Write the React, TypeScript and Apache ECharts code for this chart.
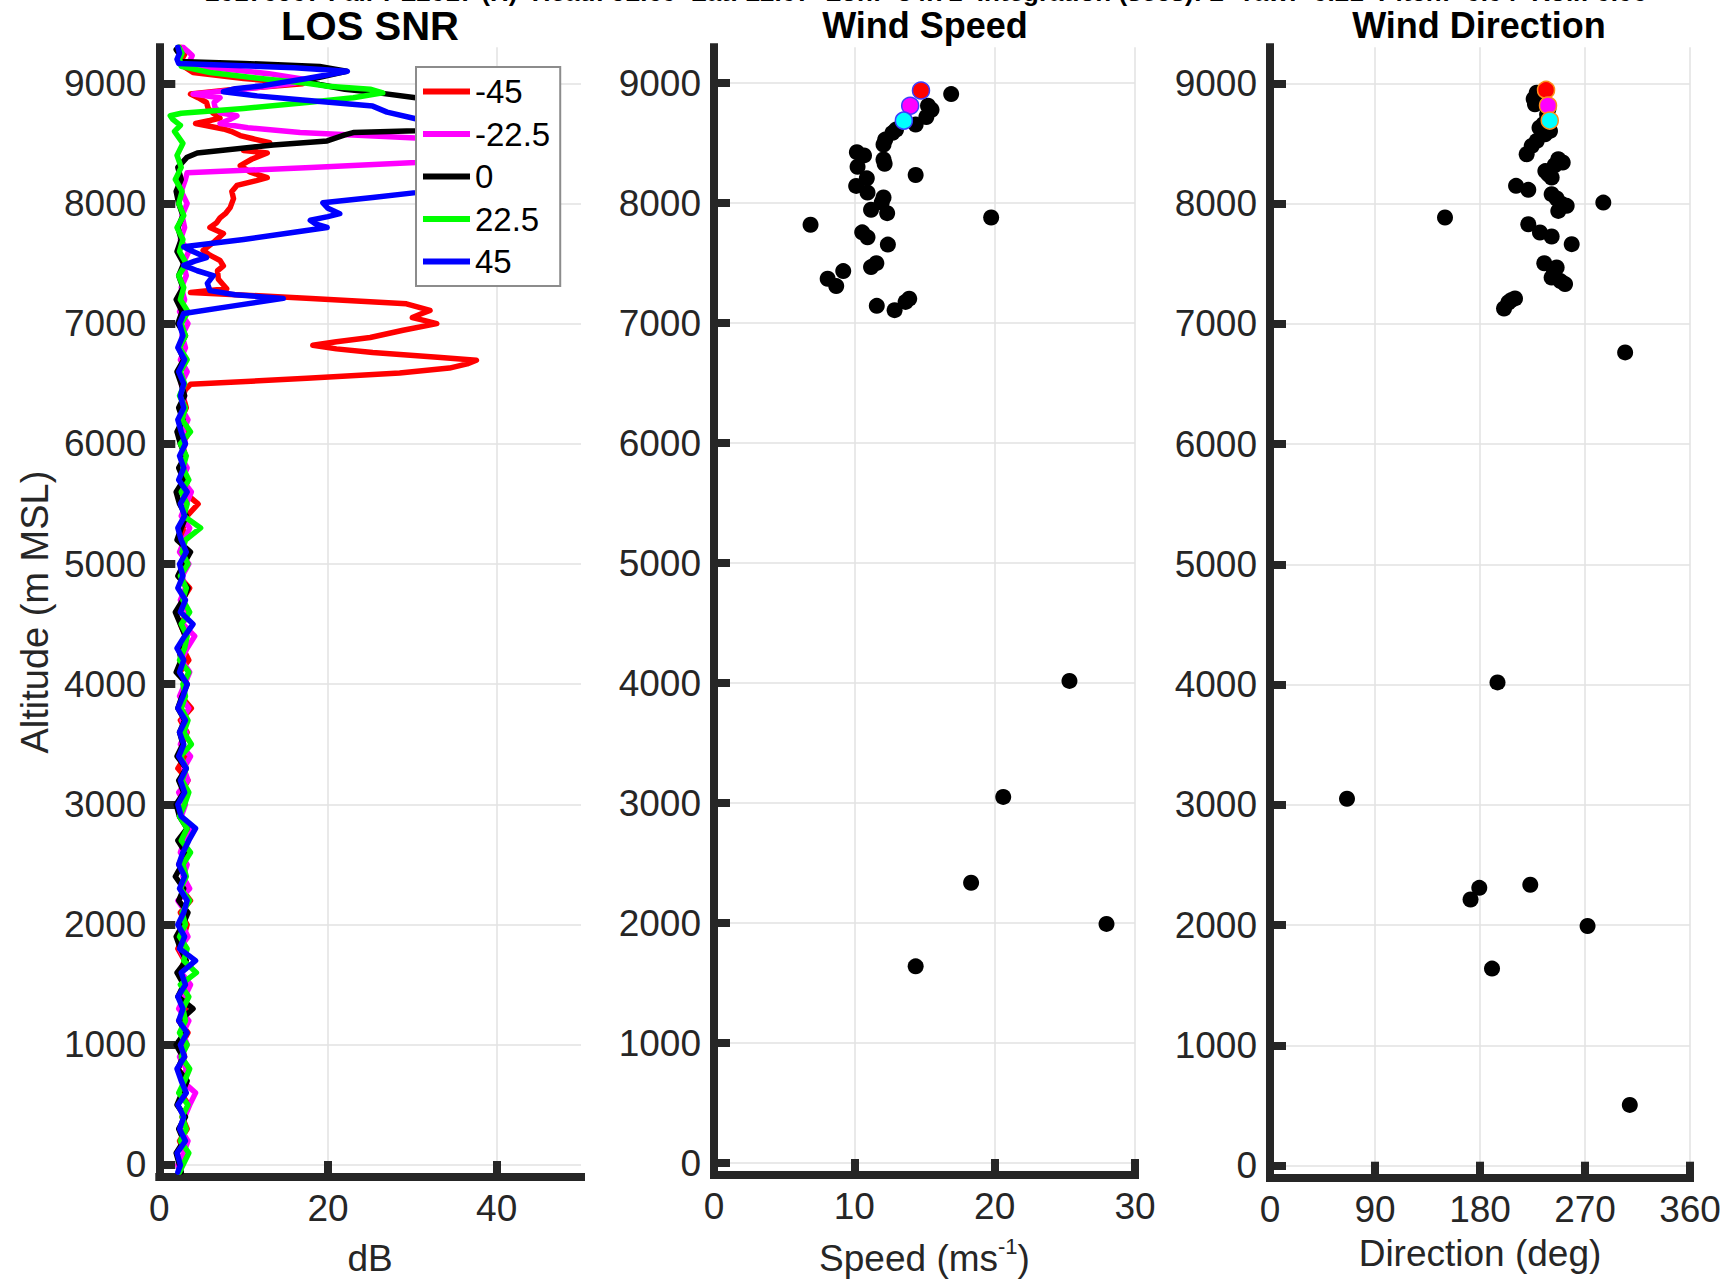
import React, { useEffect, useRef } from 'react';
import * as echarts from 'echarts';

// ---- axis ticks -------------------------------------------------------------
const altitudeTicks = [0, 1000, 2000, 3000, 4000, 5000, 6000, 7000, 8000, 9000];
const snrTicks = [0, 20, 40];
const speedTicks = [0, 10, 20, 30];
const directionTicks = [0, 90, 180, 270, 360];

// ---- LOS SNR profiles (dB) -------------------------------------------------
// Range gates of the noise-floor part of each beam (m MSL)
const gateAltitudes = [
  -60, 0, 100, 200, 300, 400, 500, 600, 700, 800, 900, 1000, 1100, 1200, 1300, 1400, 1500,
  1600, 1700, 1800, 1900, 2000, 2100, 2200, 2300, 2400, 2500, 2600, 2700, 2800, 2900,
  3000, 3100, 3200, 3300, 3400, 3500, 3600, 3700, 3800, 3900, 4000, 4100, 4200, 4300,
  4400, 4500, 4600, 4700, 4800, 4900, 5000, 5100, 5200, 5300, 5400, 5500, 5600, 5700,
  5800, 5900, 6000, 6100, 6200, 6300, 6400,
];

const snrLowM45 = [
  2.3, 2.6, 3.1, 2.4, 3.3, 2.7, 3.5, 2.5, 3.2, 2.2, 3.0, 2.6, 3.4, 2.3, 3.1, 2.7, 3.6,
  2.4, 3.0, 2.2, 2.9, 3.3, 2.5, 3.7, 2.6, 3.1, 2.3, 3.2, 2.8, 3.5, 2.4,
  3.0, 2.6, 3.4, 2.2, 3.1, 2.7, 3.3, 2.5, 3.8, 2.6, 3.2, 2.4, 3.5, 2.8,
  3.1, 2.5, 3.4, 2.7, 3.6, 2.3, 3.2, 2.6, 3.0, 2.8, 3.3, 4.6, 2.9, 3.4,
  2.6, 3.1, 2.7, 3.6, 2.5, 3.2, 2.8,
];
const snrLowM22 = [
  2.5, 2.2, 2.9, 3.4, 2.5, 3.0, 3.6, 4.3, 2.7, 3.2, 2.4, 3.3, 2.8, 3.5, 2.3, 3.0, 3.7,
  2.6, 3.1, 2.4, 3.4, 2.7, 3.2, 2.2, 3.6, 2.8, 3.3, 2.5, 3.0, 3.8, 2.6,
  3.1, 2.3, 3.4, 2.9, 3.7, 2.5, 3.2, 2.7, 3.5, 2.4, 3.0, 3.6, 2.6, 3.3,
  4.2, 2.8, 3.4, 2.5, 3.1, 2.7, 3.5, 2.4, 3.0, 3.6, 2.6, 3.2, 3.8, 2.7,
  3.3, 2.5, 3.1, 2.8, 3.4, 2.6, 3.0,
];
const snrLowZero = [
  2.6, 2.4, 2.0, 2.9, 2.3, 3.1, 2.1, 2.7, 3.3, 2.2, 2.8, 2.0, 3.0, 2.4, 4.0, 2.2, 2.9,
  2.1, 3.2, 2.5, 2.0, 2.8, 3.4, 2.3, 2.9, 1.9, 2.7, 3.1, 2.2, 3.3, 2.4,
  2.0, 2.9, 2.3, 3.2, 2.1, 2.8, 2.4, 3.0, 2.2, 2.7, 3.3, 2.0, 2.6, 2.3,
  3.1, 2.5, 1.9, 2.8, 3.4, 2.2, 2.9, 3.7, 2.1, 2.6, 3.2, 2.4, 2.0, 2.9,
  2.3, 3.1, 2.5, 2.1, 2.8, 2.3, 3.0,
];
const snrLowP22 = [
  2.4, 2.8, 3.5, 2.5, 3.2, 2.7, 3.4, 2.3, 3.0, 3.6, 2.6, 3.3, 2.4, 3.1, 2.8, 3.5, 2.5,
  4.4, 2.9, 3.3, 2.4, 3.1, 2.7, 3.6, 2.5, 3.2, 2.8, 3.7, 2.6, 3.3, 2.4,
  3.0, 3.5, 2.7, 3.2, 2.5, 3.8, 2.9, 3.4, 2.6, 3.1, 2.8, 3.5, 2.4, 3.0,
  3.3, 2.6, 3.6, 2.8, 3.2, 2.5, 3.4, 2.7, 3.1, 4.9, 2.9, 3.3, 2.6, 3.5,
  2.8, 3.2, 2.5, 3.7, 2.7, 3.1, 2.4,
];
const snrLowP45 = [
  2.2, 2.5, 2.1, 3.1, 2.4, 2.9, 2.2, 3.2, 2.6, 2.1, 3.0, 2.5, 3.3, 2.3, 2.8, 2.2, 3.1,
  2.6, 4.3, 2.4, 3.0, 2.2, 2.9, 3.3, 2.4, 3.0, 2.3, 2.8, 3.5, 4.3, 2.6,
  2.2, 3.0, 2.5, 3.2, 2.3, 2.9, 2.4, 3.1, 2.2, 2.8, 3.3, 2.4, 2.9, 2.1,
  3.0, 4.0, 2.5, 3.1, 2.2, 2.8, 2.4, 3.2, 2.6, 2.2, 3.0, 2.5, 3.3, 2.3,
  2.9, 2.4, 3.1, 2.6, 2.2, 2.9, 2.5,
];

// Upper part of each beam as [altitude m, SNR dB]
const snrHighM45 = [
  [6450, 3.1], [6495, 3.7], [6545, 17.5], [6590, 28.5], [6630, 34.4], [6665, 36.5], [6695, 37.6],
  [6720, 33], [6760, 25.3], [6790, 21], [6820, 18.2], [6850, 21], [6885, 25], [6945, 28.9],
  [7000, 32.9], [7025, 31.5], [7050, 30], [7080, 31], [7110, 32.1], [7165, 29.3], [7210, 18],
  [7260, 3.7], [7290, 8], [7330, 7.5], [7370, 7.0], [7440, 6.9], [7480, 7.6], [7525, 7.2],
  [7570, 6.0], [7610, 5.2], [7680, 6.5], [7750, 7.6], [7800, 6.0], [7840, 6.8], [7880, 7.2],
  [7920, 7.9], [7965, 8.4], [8040, 8.8], [8100, 8.6], [8150, 9.2], [8190, 11.5], [8215, 12.8],
  [8260, 10.8], [8315, 9.6], [8370, 11], [8420, 12.8], [8440, 10], [8470, 11.5], [8505, 13.1],
  [8540, 11], [8565, 9.6], [8600, 8.5], [8620, 7.6], [8665, 4.3], [8690, 6], [8710, 7.2],
  [8750, 6.4], [8790, 5.8], [8840, 5.6], [8880, 4.6], [8910, 3.7], [8950, 9], [8995, 17],
  [9040, 10], [9090, 4], [9140, 2.9], [9190, 2.6], [9240, 3.0], [9300, 2.5],
];
const snrHighM22 = [
  [6500, 2.6], [6600, 3.3], [6700, 2.5], [6800, 3.1], [6900, 2.7], [7000, 3.4], [7100, 2.4],
  [7200, 3.0], [7300, 2.6], [7400, 3.2], [7500, 2.8], [7600, 3.5], [7700, 2.5], [7800, 3.0],
  [7900, 2.7], [8000, 3.3], [8100, 2.6], [8200, 3.1], [8255, 3.3], [8300, 18], [8340, 30.4],
  [8440, 42], [8545, 30.4], [8590, 16.7], [8630, 10.5], [8665, 7.2], [8700, 8.4], [8730, 9.2],
  [8755, 7.2], [8800, 6.6], [8840, 6.5], [8880, 7.2], [8910, 4], [8950, 10], [9000, 16],
  [9030, 17.5], [9080, 13], [9130, 6], [9170, 3.5], [9230, 3.9], [9270, 3.3], [9300, 2.8],
];
const snrHighZero = [
  [6500, 2.6], [6600, 2.1], [6700, 2.9], [6800, 2.3], [6900, 3.1], [7000, 2.2], [7100, 2.7],
  [7200, 2.0], [7300, 2.8], [7400, 2.3], [7500, 2.9], [7600, 2.1], [7700, 2.6], [7800, 2.2],
  [7900, 2.8], [8000, 2.3], [8100, 2.0], [8200, 2.6], [8300, 2.2], [8385, 3.3], [8420, 4.5],
  [8487, 13.5], [8520, 19.9], [8570, 22], [8590, 23], [8605, 30.4], [8700, 42], [8800, 40],
  [8880, 30.4], [8920, 26], [8950, 22], [8990, 19], [9020, 17], [9050, 19], [9100, 22.2],
  [9140, 19], [9165, 10], [9180, 2.3], [9230, 2.5], [9280, 2.0], [9300, 2.3],
];
const snrHighP22 = [
  [6500, 3.0], [6600, 2.5], [6700, 3.3], [6800, 2.4], [6900, 3.1], [7000, 2.6], [7100, 3.4],
  [7200, 2.5], [7300, 2.9], [7400, 2.3], [7500, 3.2], [7600, 2.4], [7700, 2.8], [7800, 2.1],
  [7900, 2.9], [8000, 2.3], [8100, 2.7], [8200, 1.9], [8300, 2.6], [8400, 2.1], [8500, 2.8],
  [8600, 1.8], [8650, 2.5], [8700, 1.6], [8730, 1.3], [8750, 2.6], [8790, 10], [8840, 17.5],
  [8880, 23], [8920, 26.5], [8950, 25], [8975, 20], [9000, 17.5], [9040, 12], [9090, 6],
  [9140, 2.6], [9200, 2.4], [9250, 2.7], [9300, 2.3],
];
const snrHighP45 = [
  [6500, 2.9], [6600, 2.3], [6700, 3.0], [6800, 2.2], [6900, 2.8], [7000, 2.4], [7085, 2.9],
  [7150, 9], [7210, 14.7], [7240, 9], [7275, 6], [7335, 5.7], [7400, 6.4], [7440, 4.5],
  [7485, 2.9], [7520, 4.2], [7550, 5.6], [7600, 4], [7640, 2.9], [7700, 10], [7760, 16],
  [7800, 19.9], [7830, 18.5], [7860, 17.9], [7890, 20], [7915, 21.4], [7960, 20], [8005, 19.4],
  [8050, 25.3], [8090, 30.4], [8250, 38], [8450, 41], [8600, 37], [8705, 30.4], [8760, 27],
  [8810, 25.3], [8860, 17], [8895, 11.6], [8930, 7.6], [8955, 9], [8980, 12.3], [9040, 17.5],
  [9100, 22.3], [9130, 16], [9165, 2.3], [9200, 2.1], [9250, 2.4], [9300, 2.2],
];

const beamNames = ['-45', '-22.5', '0', '22.5', '45'];
const beamColors = ['#ff0000', '#ff00ff', '#000000', '#00ff00', '#0000ff'];
const beamLow = [snrLowM45, snrLowM22, snrLowZero, snrLowP22, snrLowP45];
const beamHigh = [snrHighM45, snrHighM22, snrHighZero, snrHighP22, snrHighP45];

// ---- wind retrievals as [value, altitude m] ---------------------------------
const speedProfile = [
  [16.9, 8909], [15.25, 8812], [15.5, 8779], [15.13, 8718], [14.37, 8655], [12.97, 8613],
  [12.72, 8586], [12.2, 8530], [12.08, 8489], [10.18, 8425], [10.69, 8398], [12.08, 8365],
  [12.16, 8329], [10.23, 8304], [14.37, 8235], [10.89, 8207], [10.13, 8144], [10.94, 8088],
  [12.08, 8047], [11.95, 8006], [11.19, 7945], [12.34, 7917], [6.88, 7820], [19.75, 7881],
  [10.56, 7757], [10.94, 7715], [12.39, 7655], [11.57, 7500], [11.19, 7467], [9.21, 7434],
  [8.1, 7370], [8.71, 7309], [13.91, 7204], [13.65, 7177], [11.6, 7144], [12.87, 7108],
  [25.33, 4018], [20.61, 3051], [18.32, 2336], [27.97, 1993], [14.37, 1639],
];
const directionProfile = [
  [228.6, 8922], [226.0, 8870], [227.1, 8825], [238.6, 8784], [237.5, 8740], [234.3, 8659],
  [231.0, 8630], [240.0, 8604], [235.7, 8576], [228.6, 8521], [224.3, 8479], [220.0, 8410],
  [247.1, 8368], [250.9, 8341], [244.0, 8318], [236.0, 8270], [238.6, 8244], [241.4, 8216],
  [210.9, 8147], [221.4, 8114], [241.4, 8078], [245.7, 8042], [285.7, 8008], [250.0, 7996],
  [254.3, 7981], [247.1, 7939], [150.0, 7884], [221.4, 7828], [231.4, 7759], [241.4, 7726],
  [258.6, 7662], [235.1, 7504], [245.7, 7468], [243.5, 7440], [241.4, 7385], [249.0, 7355],
  [252.9, 7330], [210.0, 7211], [206.5, 7195], [204.3, 7177], [200.6, 7127], [304.4, 6762],
  [195.0, 4018], [66.0, 3051], [223.1, 2336], [179.4, 2310], [171.9, 2213], [272.2, 1993],
  [190.3, 1639], [308.4, 505],
];
// Highlighted top three retrievals: red, magenta, cyan
const highlightColors = ['#ff0000', '#ff00ff', '#00ffff'];
const speedHighlight = [[14.75, 8939], [13.98, 8812], [13.53, 8688]];
const directionHighlight = [[236.6, 8945], [238.3, 8815], [239.8, 8690]];

const headerText =
  '20170907 Fair PL2017 (H)  Head: 92.60  Lat: 22.07  Lon: -34.71  Integration (secs): 2  Yaw: -0.21  Pitch: -0.04  Roll: 0.06';

// ---- styling ----------------------------------------------------------------
const FONT = "'Liberation Sans', Arial, Helvetica, sans-serif";
const INK = '#262626';
const GRID_LINE = '#e2e2e2';
const PLOT_TOP = 47.2;
const PLOT_HEIGHT = 1130.5;
const TICK_FONT = 37;
const NAME_FONT = 37;

const panels = [
  { left: 159.3, width: 421.7 },
  { left: 714, width: 421 },
  { left: 1270, width: 420 },
];

const plainNumber = (v: number) => String(v);

function altitudeAxis(gridIndex: number, withName: boolean) {
  return {
    type: 'value',
    gridIndex,
    min: -100,
    max: 9300,
    splitNumber: 10,
    position: 'left',
    name: withName ? 'Altitude (m MSL)' : '',
    nameLocation: 'middle',
    nameGap: 105,
    nameTextStyle: { fontSize: 38, color: INK, fontFamily: FONT },
    axisLine: { show: true, onZero: false, lineStyle: { color: INK, width: 8, cap: 'square' } },
    axisTick: {
      show: true,
      inside: true,
      length: 16,
      customValues: altitudeTicks,
      lineStyle: { color: INK, width: 8 },
    },
    axisLabel: {
      customValues: altitudeTicks,
      formatter: plainNumber,
      fontSize: TICK_FONT,
      color: INK,
      margin: 13,
      fontFamily: FONT,
    },
    splitLine: { show: true, lineStyle: { color: GRID_LINE, width: 1.5 } },
  };
}

function bottomAxis(gridIndex: number, max: number, ticks: number[], name: string, nameGap: number, rich?: any) {
  return {
    type: 'value',
    gridIndex,
    min: 0,
    max,
    position: 'bottom',
    name,
    nameLocation: 'middle',
    nameGap,
    nameTextStyle: { fontSize: NAME_FONT, color: INK, fontFamily: FONT, rich },
    axisLine: { show: true, onZero: false, lineStyle: { color: INK, width: 8, cap: 'square' } },
    axisTick: {
      show: true,
      inside: true,
      length: 16,
      customValues: ticks,
      lineStyle: { color: INK, width: 8 },
    },
    axisLabel: {
      customValues: ticks,
      formatter: plainNumber,
      fontSize: TICK_FONT,
      color: INK,
      margin: 13,
      fontFamily: FONT,
    },
    splitLine: { show: true, lineStyle: { color: GRID_LINE, width: 1.5 } },
  };
}

function buildOption() {
  const snrSeries = beamNames.map((name, i) => {
    const low = beamLow[i].map((v, k) => [v, gateAltitudes[k]]);
    const high = beamHigh[i].map(([alt, v]) => [v, alt]);
    return {
      type: 'line',
      name,
      xAxisIndex: 0,
      yAxisIndex: 0,
      data: low.concat(high),
      showSymbol: false,
      symbol: 'none',
      color: beamColors[i],
      itemStyle: { color: beamColors[i] },
      lineStyle: { color: beamColors[i], width: 5.5, join: 'round', cap: 'round' },
      z: 2 + i * 0.1,
    };
  });

  const dots = (axis: number, data: number[][]) => ({
    type: 'scatter',
    name: axis === 1 ? 'speed' : 'direction',
    xAxisIndex: axis,
    yAxisIndex: axis,
    data,
    symbol: 'circle',
    symbolSize: 16,
    itemStyle: { color: '#000000', opacity: 1 },
    z: 3,
  });

  const highlights = (axis: number, data: number[][], edge: string) =>
    data.map((p, i) => ({
      type: 'scatter',
      name: `top-${axis}-${i}`,
      xAxisIndex: axis,
      yAxisIndex: axis,
      data: [p],
      symbol: 'circle',
      symbolSize: 17,
      itemStyle: { color: highlightColors[i], borderColor: edge, borderWidth: 1.5, opacity: 1 },
      z: 4,
    }));

  return {
    animation: false,
    backgroundColor: '#ffffff',
    textStyle: { fontFamily: FONT },
    title: [
      { text: 'LOS SNR', left: 370, top: 6, textAlign: 'center', padding: 0,
        textStyle: { fontSize: 40, fontWeight: 'bold', color: '#000', fontFamily: FONT } },
      { text: 'Wind Speed', left: 925, top: 7, textAlign: 'center', padding: 0,
        textStyle: { fontSize: 36, fontWeight: 'bold', color: '#000', fontFamily: FONT } },
      { text: 'Wind Direction', left: 1479, top: 7, textAlign: 'center', padding: 0,
        textStyle: { fontSize: 36, fontWeight: 'bold', color: '#000', fontFamily: FONT } },
    ],
    legend: {
      data: beamNames,
      orient: 'vertical',
      left: 416,
      top: 67,
      icon: 'rect',
      itemWidth: 47,
      itemHeight: 6,
      itemGap: 9.5,
      padding: [8, 10, 8, 7],
      backgroundColor: '#ffffff',
      borderColor: '#8c8c8c',
      borderWidth: 2,
      borderRadius: 0,
      selectedMode: false,
      textStyle: { fontSize: 33, color: '#000', fontFamily: FONT },
    },
    grid: panels.map((p) => ({ left: p.left, top: PLOT_TOP, width: p.width, height: PLOT_HEIGHT })),
    xAxis: [
      bottomAxis(0, 50, snrTicks, 'dB', 63),
      bottomAxis(1, 30, speedTicks, '{t|Speed (ms}{s|-1}{t|)}', 60, {
        t: { fontSize: NAME_FONT, color: INK, fontFamily: FONT, lineHeight: 42, verticalAlign: 'bottom' },
        s: { fontSize: 22, color: INK, fontFamily: FONT, lineHeight: 22, verticalAlign: 'top' },
      }),
      bottomAxis(2, 360, directionTicks, 'Direction (deg)', 57),
    ],
    yAxis: [altitudeAxis(0, true), altitudeAxis(1, false), altitudeAxis(2, false)],
    series: [
      ...snrSeries,
      dots(1, speedProfile),
      ...highlights(1, speedHighlight, '#3c3cff'),
      dots(2, directionProfile),
      ...highlights(2, directionHighlight, '#ff8c1a'),
    ],
    graphic: [
      {
        type: 'text',
        x: 926,
        y: 5,
        style: {
          text: headerText,
          fontSize: 26,
          fontWeight: 'bold',
          fontFamily: FONT,
          fill: '#000',
          align: 'center',
          verticalAlign: 'bottom',
        },
      },
    ],
  };
}

export default function App() {
  const ref = useRef<HTMLDivElement>(null);

  useEffect(() => {
    if (!ref.current) return;
    const chart = echarts.init(ref.current, undefined, { renderer: 'svg' });
    chart.setOption(buildOption() as any);
    return () => chart.dispose();
  }, []);

  return (
    <div
      ref={ref}
      style={{ position: 'absolute', left: 0, top: 0, width: 1724, height: 1282, background: '#fff' }}
    />
  );
}
